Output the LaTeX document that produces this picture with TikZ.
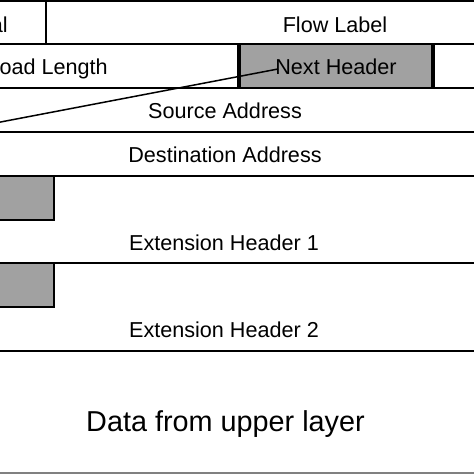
\documentclass[tikz,border=0pt]{standalone}
\usepackage{fontspec}
\setmainfont{Liberation Sans}
\begin{document}
\begin{tikzpicture}[x=1pt,y=-1pt,
  field/.style={draw=black, line width=1.9pt},
  graybox/.style={field, fill=black!37},
  lbl/.style={inner sep=0pt, anchor=base, font=\fontsize{21.6}{24}\selectfont},
  biglbl/.style={inner sep=0pt, anchor=base, font=\fontsize{28.8}{32}\selectfont},
  conn/.style={draw=black, line width=1.5pt}]
\useasboundingbox (0,0) rectangle (474,474);
\clip (0,0) rectangle (474,474);
\fill[white] (0,0) rectangle (474,474);
% row 1
\draw[field] (-300,1) rectangle (46,44);
\draw[field] (46,1) rectangle (520,44);
% row 2
\draw[field] (-300,44) rectangle (238,88);
\draw[graybox] (240,44) rectangle (432,88);
\draw[field] (434,44) rectangle (520,88);
% rows 3-4
\draw[field] (-300,88) rectangle (520,132);
\draw[field] (-300,132) rectangle (520,176);
% extension headers
\draw[field] (-300,176) rectangle (520,263);
\draw[graybox] (-10,176) rectangle (54,220);
\draw[field] (-300,263) rectangle (520,351);
\draw[graybox] (-10,263) rectangle (54,307);
% data
\draw[field] (-300,351) -- (520,351);
\draw[line width=2pt, draw=black!50] (-10,473) -- (484,473);
% labels
\node[lbl, anchor=base east] (tc) at (8,32) {al};
\node[lbl] (fl) at (335,32) {Flow Label};
\node[lbl, anchor=base east] (pl) at (108,74) {Payload Length};
\node[lbl] (nh) at (336,74) {Next Header};
\node[lbl] (sa) at (225,118) {Source Address};
\node[lbl] (da) at (225,162) {Destination Address};
\node[lbl] (e1) at (224,250) {Extension Header 1};
\node[lbl] (e2) at (224,337) {Extension Header 2};
\node[biglbl] (du) at (225.5,431) {Data from upper layer};
% pointer line
\coordinate (ls) at (-2,122.5);
\coordinate (le) at (278,69);
\draw[conn] (ls) -- (le);
\end{tikzpicture}
\end{document}
